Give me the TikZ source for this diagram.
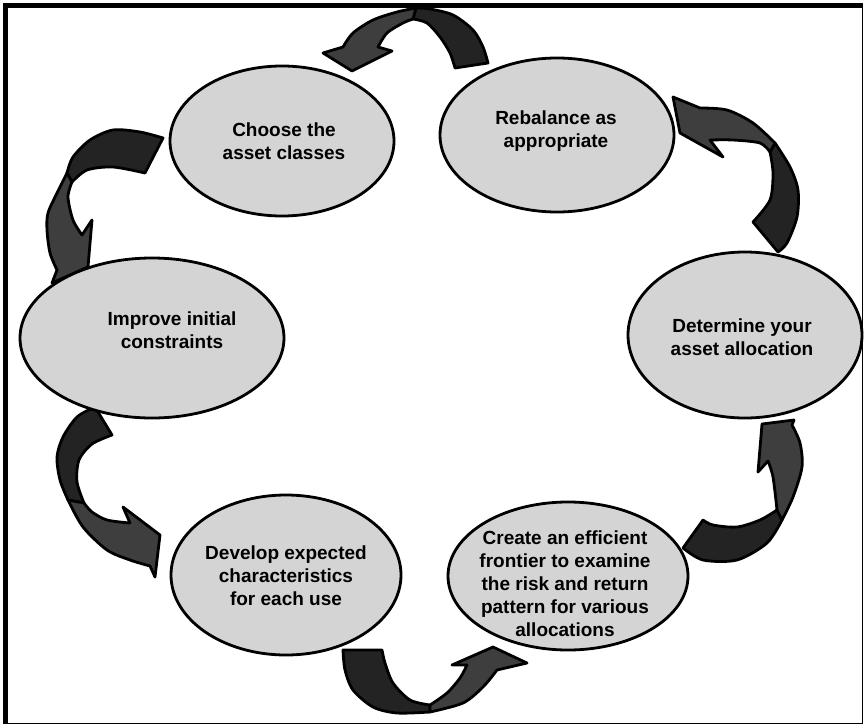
\documentclass[tikz,border=0pt]{standalone}
\usepackage{fontspec}
\setmainfont{Liberation Sans}
\usetikzlibrary{shapes.geometric}
\definecolor{stagefill}{RGB}{212,212,212}
\definecolor{arrowdk}{RGB}{35,35,35}
\definecolor{arrowlt}{RGB}{62,62,62}
\begin{document}
\begin{tikzpicture}[x=1pt,y=-1pt,
  stage/.style={ellipse, draw=black, line width=2.8pt, fill=stagefill, inner sep=0pt},
  stagetext/.style={align=center, inner sep=0pt, text=black,
    font=\bfseries\fontsize{19}{23}\selectfont},
  arrowdark/.style={draw=black, line width=2.8pt, line join=round, fill=arrowdk},
  arrowlight/.style={draw=black, line width=2.8pt, line join=round, fill=arrowlt}]
\useasboundingbox (0,0) rectangle (864,725);

% frame: heavy top and left edges, thin right and bottom edges
\fill[black] (3,3) rectangle (863,8);
\fill[black] (3,3) rectangle (8,724);
\draw[black, line width=1.3pt] (862.5,5) -- (862.5,723.3) -- (5,723.3);

% curved arrows between the stages (tail half dark, head half lighter)
% top: Rebalance -> Choose
\draw[arrowdark] (455,68) -- (488,63) -- plot[smooth] coordinates {(488,63) (483,47) (473,30) (453,15) (430,9) (416,8)} -- (413,19) -- plot[smooth] coordinates {(413,19) (427,23) (440,37) (450,53) (455,68)} -- cycle;
\draw[arrowlight] (416,8) -- plot[smooth] coordinates {(416,8) (397,12) (373,20) (353,33) (343,47)} -- (323,53) -- (352,71) -- (392,51) -- (378,47) -- plot[smooth] coordinates {(378,47) (387,33) (403,23) (413,19)} -- cycle;
% left upper: Choose -> Improve
\draw[arrowdark] (163,138) -- plot[smooth] coordinates {(163,138) (140,132) (113,130) (90,140) (73,157) (67,173)} -- (72,182) -- plot[smooth] coordinates {(72,182) (87,170) (113,167) (145,173)} -- cycle;
\draw[arrowlight] (67,173) -- plot[smooth] coordinates {(67,173) (57,193) (48,213) (47,230) (50,253) (57,270)} -- (52,283) -- (88,267) -- (92,220) -- (82,235) -- plot[smooth] coordinates {(82,235) (73,220) (68,197) (72,182)} -- cycle;
% right upper: Determine -> Rebalance
\draw[arrowdark] (753,222) -- (778,252) -- plot[smooth] coordinates {(778,252) (787,243) (797,217) (798,190) (790,167) (775,143)} -- (770,152) -- plot[smooth] coordinates {(770,152) (773,173) (770,200) (753,222)} -- cycle;
\draw[arrowlight] (775,143) -- plot[smooth] coordinates {(775,143) (753,123) (727,110) (700,108)} -- (673,97) -- (680,133) -- (723,157) -- (710,140) -- plot[smooth] coordinates {(710,140) (733,140) (760,143) (770,152)} -- cycle;
% left lower: Improve -> Develop
\draw[arrowdark] (95,407) -- plot[smooth] coordinates {(95,407) (77,417) (63,437) (57,457) (60,480) (68,500)} -- (84,503) -- plot[smooth] coordinates {(84,503) (77,482) (79,460) (92,444) (112,435)} -- cycle;
\draw[arrowlight] (68,500) -- plot[smooth] coordinates {(68,500) (83,527) (107,550) (130,560) (150,566)} -- (155,577) -- (160,535) -- (123,507) -- (130,523) -- plot[smooth] coordinates {(130,523) (107,520) (92,512) (84,503)} -- cycle;
% right lower: Create -> Determine
\draw[arrowdark] (683,548) -- plot[smooth] coordinates {(683,548) (703,560) (737,560) (767,543) (782,520)} -- (777,510) -- plot[smooth] coordinates {(777,510) (760,520) (737,527) (713,525) (703,520)} -- cycle;
\draw[arrowlight] (782,520) -- plot[smooth] coordinates {(782,520) (793,497) (802,467) (800,443) (792,425)} -- (794,420) -- (762,424) -- (758,472) -- (768,461) -- plot[smooth] coordinates {(768,461) (773,477) (777,510)} -- cycle;
% bottom: Develop -> Create
\draw[arrowdark] (343,650) -- plot[smooth] coordinates {(343,650) (345,670) (353,690) (373,707) (397,713) (430,712)} -- (430,705) -- plot[smooth] coordinates {(430,705) (410,700) (393,683) (385,663) (382,650)} -- cycle;
\draw[arrowlight] (430,712) -- plot[smooth] coordinates {(430,712) (463,703) (483,687) (497,670)} -- (527,663) -- (493,647) -- (452,665) -- (467,665) -- plot[smooth] coordinates {(467,665) (460,678) (447,693) (430,705)} -- cycle;

% stages
\node[stage, minimum width=224pt, minimum height=150pt] (choose) at (282,141) {};
\node[stage, minimum width=234pt, minimum height=154pt] (rebal) at (557,135) {};
\node[stage, minimum width=234pt, minimum height=166pt] (determ) at (745,335) {};
\node[stage, minimum width=240pt, minimum height=148pt] (create) at (568,576) {};
\node[stage, minimum width=230pt, minimum height=160pt] (develop) at (286,575) {};
\node[stage, minimum width=264pt, minimum height=160pt] (improve) at (152,338) {};

\node[stagetext] (chooseT) at (284,141) {Choose the\\asset classes};
\node[stagetext] (rebalT) at (556,131) {Rebalance as\\appropriate};
\node[stagetext] (determT) at (742,337) {Determine your\\asset allocation};
\node[stagetext] (createT) at (565,584) {Create an efficient\\frontier to examine\\the risk and return\\pattern for various\\allocations};
\node[stagetext] (developT) at (286,576) {Develop expected\\characteristics\\for each use};
\node[stagetext] (improveT) at (172,330) {Improve initial\\constraints};
\end{tikzpicture}
\end{document}
